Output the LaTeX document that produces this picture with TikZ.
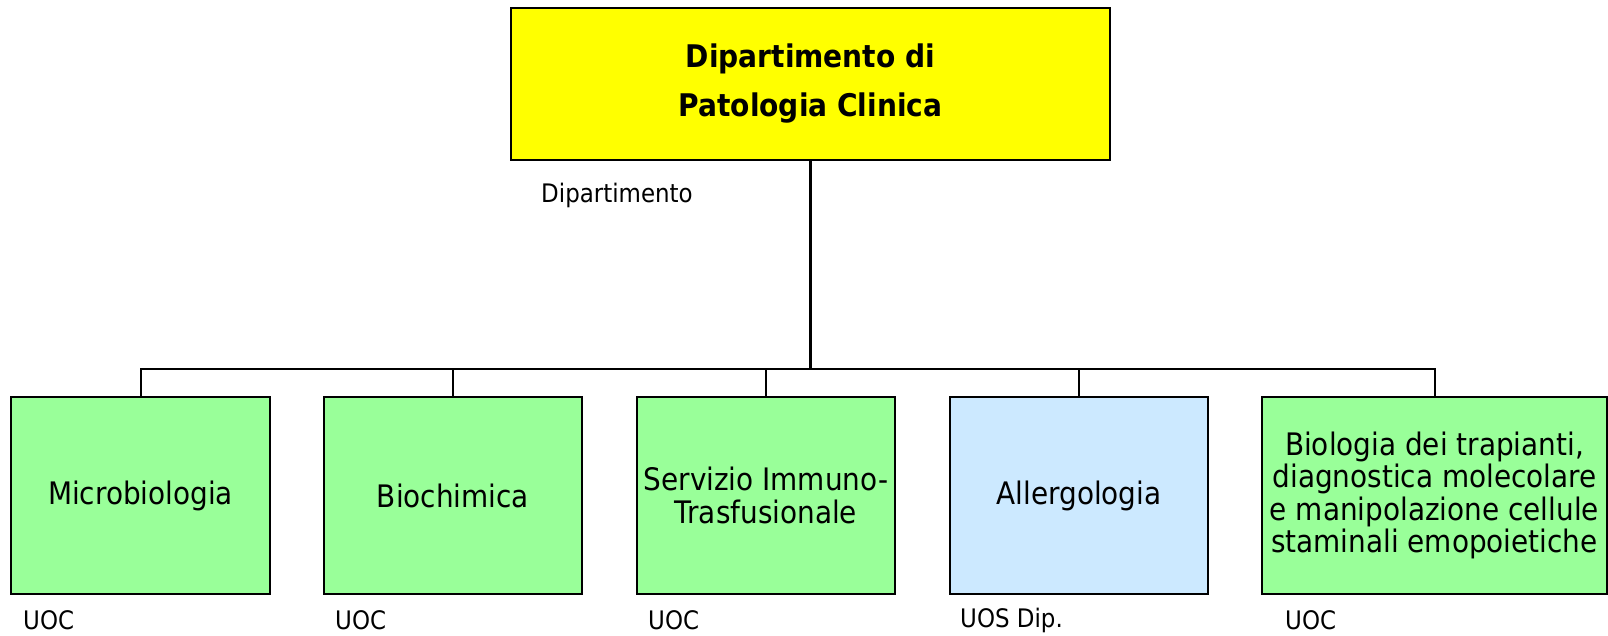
\documentclass[tikz,border=0pt]{standalone}
\usepackage{fontspec}
\setmainfont{DejaVu Sans Condensed}[BoldFont={DejaVu Sans Condensed Bold}]
\usetikzlibrary{positioning}

\definecolor{giallo}{RGB}{255,255,0}
\definecolor{verde}{RGB}{153,255,153}
\definecolor{azzurro}{RGB}{204,233,255}

\tikzset{
  unita/.style={draw=black, line width=2pt, minimum height=197pt, align=center,
    inner sep=0pt, font=\fontsize{31}{32.5}\selectfont},
  tipo/.style={anchor=west, inner sep=0pt, font=\fontsize{25.5}{30}\selectfont},
  linea/.style={line width=2pt}
}

\begin{document}
\begin{tikzpicture}[x=1pt,y=-1pt]%Organigramma del dipartimento
        \useasboundingbox (0,0) rectangle (1608,635);

        \coordinate (bus) at (810.5,369);

        \node[draw=black, line width=2pt, fill=giallo, minimum width=599pt, minimum height=152pt,
              align=center, inner sep=0pt, font=\bfseries\fontsize{31.2}{49}\selectfont]
              (dip) at (810.5,84) {Dipartimento di\\Patologia Clinica};
        \node[tipo] (dipT) at (541,195) {Dipartimento};

        \node[unita, fill=verde, minimum width=259pt] (micro) at (140.5,495.5) {Microbiologia};
        \node[unita, fill=verde, minimum width=258pt] (bioch) at (453,495.5) {Biochimica};
        \node[unita, fill=verde, minimum width=258pt] (sit) at (766,495.5) {Servizio Immuno-\\Trasfusionale};
        \node[unita, fill=azzurro, minimum width=258pt] (aller) at (1079,495.5) {Allergologia};
        \node[unita, fill=verde, minimum width=345pt] (trap) at (1434.5,495.5)
              {Biologia dei trapianti,\\diagnostica molecolare\\e manipolazione cellule\\staminali emopoietiche};

        \node[tipo] (microT) at (23,620) {UOC};
        \node[tipo] (biochT) at (335,620) {UOC};
        \node[tipo] (sitT) at (648,620) {UOC};
        \node[tipo] (allerT) at (960,620) {UOS Dip.};
        \node[tipo] (trapT) at (1285,620) {UOC};

        \draw[line width=3pt] (dip.south) -- (bus);
        \foreach \u in {micro,bioch,sit,aller,trap}
          \draw[linea] (\u.north) |- (bus);
    \end{tikzpicture}
\end{document}
